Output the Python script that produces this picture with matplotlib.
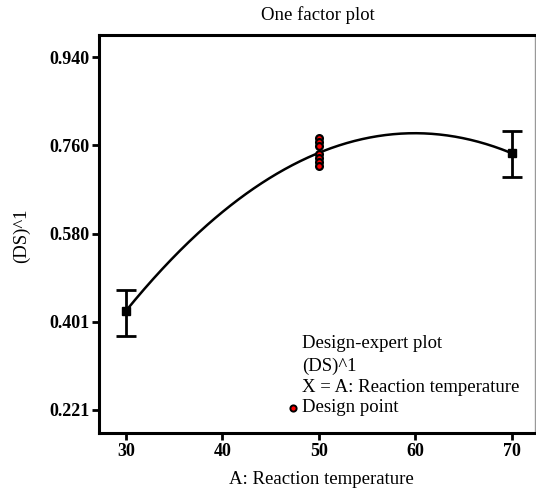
import numpy as np
import matplotlib
matplotlib.use("Agg")
import matplotlib.pyplot as plt

# Data
x_levels = [30, 50, 70]
y_means = [0.423, 0.745, 0.744]
y_err_low = [0.372, None, 0.696]
y_err_high = [0.465, None, 0.789]
design_x = [50, 50, 50, 50, 50, 50, 50]
design_y = [0.775, 0.767, 0.759, 0.742, 0.734, 0.726, 0.718]
xticks = [30, 40, 50, 60, 70]
yticks = [0.221, 0.401, 0.580, 0.760, 0.940]
ytick_labels = ["0.221", "0.401", "0.580", "0.760", "0.940"]

plt.rcParams['font.family'] = ['Liberation Serif', 'DejaVu Serif']

fig = plt.figure(figsize=(5.36, 4.92), dpi=100)
ax = fig.add_axes([99/536, 59/492, 436/536, 398/492])

# fitted curve (quadratic through means)
coef = np.polyfit(x_levels, y_means, 2)
xs = np.linspace(30, 70, 300)
ax.plot(xs, np.polyval(coef, xs), color='black', lw=1.8, zorder=2)

# error bars at 30 and 70
for xv, ym, lo, hi in zip(x_levels, y_means, y_err_low, y_err_high):
    if lo is None:
        continue
    ax.errorbar([xv], [ym], yerr=[[ym - lo], [hi - ym]], fmt='s', color='black',
                ms=6, capsize=7.5, capthick=2, elinewidth=2, zorder=3)

# design points
ax.scatter(design_x, design_y, s=24, facecolor='red', edgecolor='black', lw=1.6, zorder=4)

ax.set_xlim(27.2, 72.4)
ax.set_ylim(0.174, 0.985)
ax.set_xticks(xticks)
ax.set_yticks(yticks)
ax.set_yticklabels(ytick_labels)
ax.tick_params(axis='both', direction='out', length=5, width=2, labelsize=13, pad=2)
for lab in ax.get_xticklabels() + ax.get_yticklabels():
    lab.set_fontweight('bold')

for s in ['left', 'bottom', 'top']:
    ax.spines[s].set_linewidth(2.2)
    ax.spines[s].set_color('black')
ax.spines['right'].set_linewidth(1)
ax.spines['right'].set_color('#999999')

fig.text(318/536, 1 - 15/492, "One factor plot", fontsize=13.5, ha='center', va='center')
fig.text(321/536, 1 - 479/492, "A: Reaction temperature", fontsize=13.5, ha='center', va='center')
fig.text(21/536, 1 - 236/492, "(DS)^1", fontsize=13.5, ha='center', va='center', rotation=90)

# annotation block
tx = 302
lines = ["Design-expert plot", "(DS)^1", "X = A: Reaction temperature", "Design point"]
ys_px = [344, 366, 387, 408]
for t, yp in zip(lines, ys_px):
    fig.text(tx/536, 1 - yp/492, t, fontsize=13.5, va='center', ha='left')
ax.scatter([293], [492 - 408], s=20, facecolor='red', edgecolor='black', lw=1.4,
           transform=None, zorder=5, clip_on=False)

fig.savefig("out.png", dpi=100)
